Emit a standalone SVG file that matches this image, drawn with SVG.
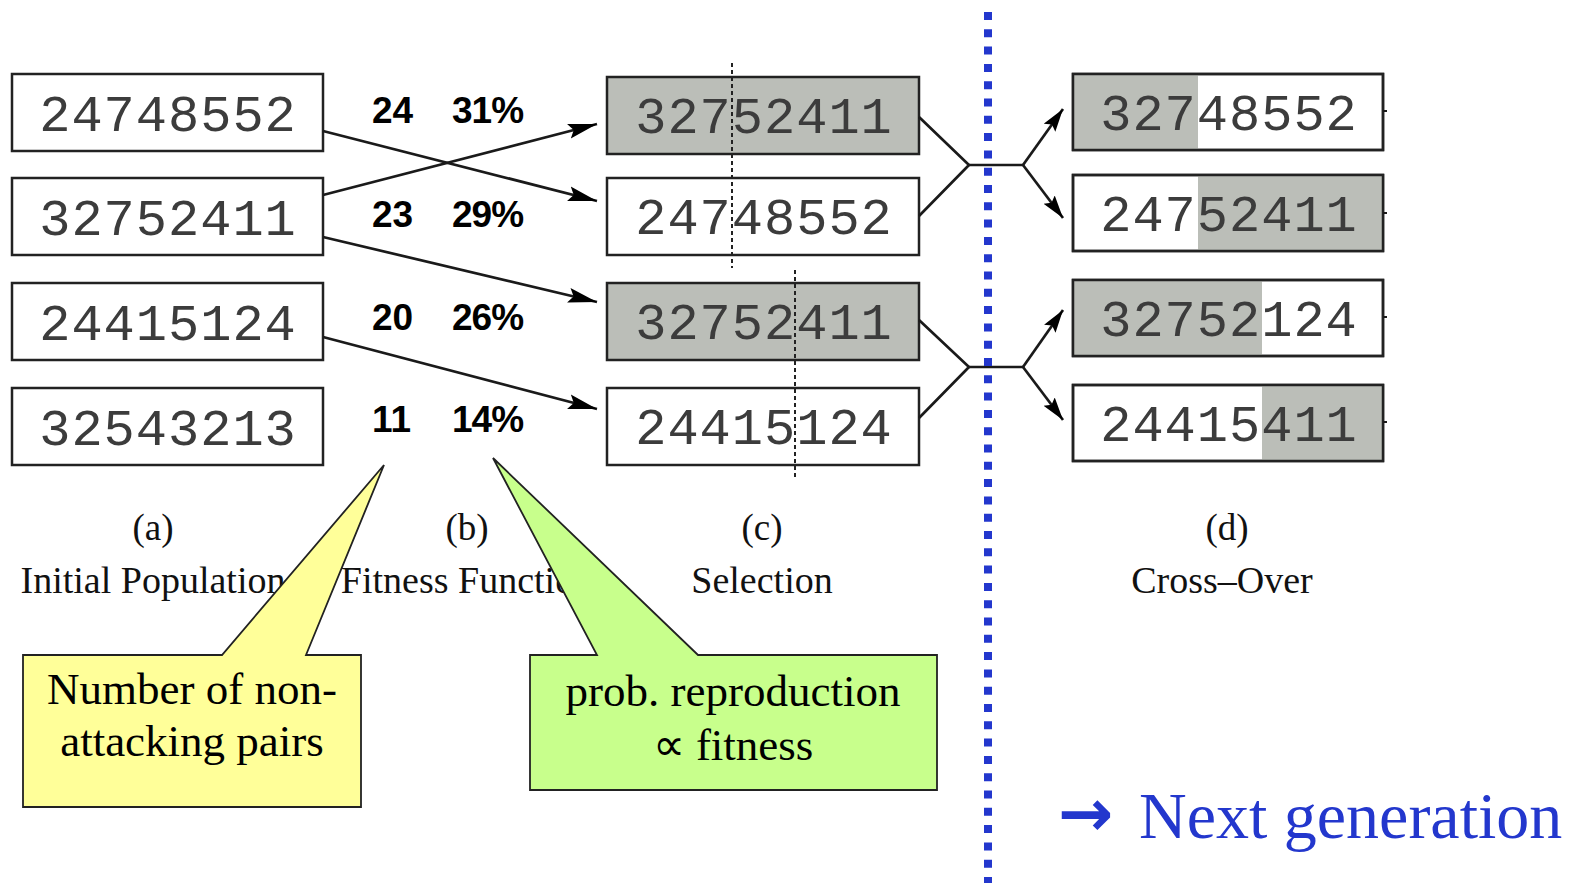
<svg xmlns="http://www.w3.org/2000/svg" width="1578" height="883" viewBox="0 0 1578 883">
<style>
.box{fill:#fff;stroke:#222;stroke-width:2.5}
.shade{fill:#bbbeb8;stroke:none}
.frame{fill:none;stroke:#222;stroke-width:2.5}
.code{font-family:"Liberation Mono","Courier New",monospace;font-size:52px;fill:#3c3c3c;text-anchor:middle;letter-spacing:1px}
.fit{font-family:"Liberation Sans",Arial,sans-serif;font-weight:bold;font-size:37px;fill:#000}
.lab{font-family:"Liberation Serif","Times New Roman",serif;font-size:37px;fill:#111;text-anchor:middle}
.cap{font-family:"Liberation Serif","Times New Roman",serif;font-size:38px;fill:#111;text-anchor:middle}
.call{font-family:"Liberation Serif","Times New Roman",serif;font-size:45px;fill:#000;text-anchor:middle}
.conn{stroke:#1a1a1a;stroke-width:2.7;fill:none}
.sel{stroke:#222;stroke-width:2;stroke-dasharray:4 3;fill:none}
</style>
<defs>
<marker id="ah" markerUnits="userSpaceOnUse" markerWidth="30" markerHeight="16" refX="29" refY="8" orient="auto">
<path d="M0,0.5 L29,8 L0,15.5 L5,8 z" fill="#000"/>
</marker>
<marker id="ah2" markerUnits="userSpaceOnUse" markerWidth="24" markerHeight="15" refX="23" refY="7.5" orient="auto">
<path d="M0,0.5 L23,7.5 L0,14.5 L4,7.5 z" fill="#000"/>
</marker>
</defs>

<g id="population">
<g id="pop1"><rect class="box" x="12" y="74" width="311" height="77"/><text class="code" x="168" y="131">24748552</text></g>
<g id="pop2"><rect class="box" x="12" y="178" width="311" height="77"/><text class="code" x="168" y="235">32752411</text></g>
<g id="pop3"><rect class="box" x="12" y="283" width="311" height="77"/><text class="code" x="168" y="340">24415124</text></g>
<g id="pop4"><rect class="box" x="12" y="388" width="311" height="77"/><text class="code" x="168" y="445">32543213</text></g>
</g>

<g id="fitness">
<text class="fit" x="372" y="123">24</text><text class="fit" x="452" y="123" letter-spacing="-1">31%</text>
<text class="fit" x="372" y="227">23</text><text class="fit" x="452" y="227" letter-spacing="-1">29%</text>
<text class="fit" x="372" y="330">20</text><text class="fit" x="452" y="330" letter-spacing="-1">26%</text>
<text class="fit" x="372" y="432">11</text><text class="fit" x="452" y="432" letter-spacing="-1">14%</text>
</g>

<g id="selection">
<g id="sel1"><rect class="box" x="607" y="77" width="312" height="77" style="fill:#bbbeb8"/><text class="code" x="764" y="133">32752411</text></g>
<g id="sel2"><rect class="box" x="607" y="178" width="312" height="77"/><text class="code" x="764" y="234">24748552</text></g>
<g id="sel3"><rect class="box" x="607" y="283" width="312" height="77" style="fill:#bbbeb8"/><text class="code" x="764" y="339">32752411</text></g>
<g id="sel4"><rect class="box" x="607" y="388" width="312" height="77"/><text class="code" x="764" y="444">24415124</text></g>
<line class="sel" x1="732" y1="63" x2="732" y2="268"/>
<line class="sel" x1="795" y1="270" x2="795" y2="478"/>
</g>

<g id="crossover">
<g id="co1"><rect class="box" x="1073" y="74" width="310" height="76"/><rect class="shade" x="1074" y="75" width="124" height="74"/><rect class="frame" x="1073" y="74" width="310" height="76"/><line class="conn" x1="1383" y1="111" x2="1387" y2="111" style="stroke-width:2"/><text class="code" x="1229" y="130">32748552</text></g>
<g id="co2"><rect class="box" x="1073" y="175" width="310" height="76"/><rect class="shade" x="1198" y="176" width="184" height="74"/><rect class="frame" x="1073" y="175" width="310" height="76"/><line class="conn" x1="1383" y1="213" x2="1387" y2="213" style="stroke-width:2"/><text class="code" x="1229" y="231">24752411</text></g>
<g id="co3"><rect class="box" x="1073" y="280" width="310" height="76"/><rect class="shade" x="1074" y="281" width="188" height="74"/><rect class="frame" x="1073" y="280" width="310" height="76"/><line class="conn" x1="1383" y1="317" x2="1387" y2="317" style="stroke-width:2"/><text class="code" x="1229" y="336">32752124</text></g>
<g id="co4"><rect class="box" x="1073" y="385" width="310" height="76"/><rect class="shade" x="1262" y="386" width="120" height="74"/><rect class="frame" x="1073" y="385" width="310" height="76"/><line class="conn" x1="1383" y1="422" x2="1387" y2="422" style="stroke-width:2"/><text class="code" x="1229" y="441">24415411</text></g>
</g>

<g id="connectors">
<line class="conn" x1="323" y1="131" x2="597" y2="201" marker-end="url(#ah)"/>
<line class="conn" x1="323" y1="195" x2="597" y2="124" marker-end="url(#ah)"/>
<line class="conn" x1="323" y1="237" x2="597" y2="302" marker-end="url(#ah)"/>
<line class="conn" x1="323" y1="337" x2="597" y2="409" marker-end="url(#ah)"/>
<polyline class="conn" points="919,117 969,165 919,216"/>
<line class="conn" x1="969" y1="165" x2="1023" y2="165"/>
<line class="conn" x1="1023" y1="165" x2="1063" y2="109" marker-end="url(#ah2)"/>
<line class="conn" x1="1023" y1="165" x2="1063" y2="218" marker-end="url(#ah2)"/>
<polyline class="conn" points="919,320 969,367 919,418"/>
<line class="conn" x1="969" y1="367" x2="1023" y2="367"/>
<line class="conn" x1="1023" y1="367" x2="1063" y2="310" marker-end="url(#ah2)"/>
<line class="conn" x1="1023" y1="367" x2="1063" y2="420" marker-end="url(#ah2)"/>
</g>

<line id="divider" x1="988" y1="12" x2="988" y2="883" stroke="#2337cd" stroke-width="8" stroke-dasharray="8 9.3"/>

<g id="labels">
<text class="lab" x="153" y="540">(a)</text>
<text class="lab" x="467" y="540">(b)</text>
<text class="lab" x="762" y="540">(c)</text>
<text class="lab" x="1227" y="540">(d)</text>
<text class="cap" x="153" y="593">Initial Population</text>
<text class="cap" x="467" y="593">Fitness Function</text>
<text class="cap" x="762" y="593">Selection</text>
<text class="cap" x="1222" y="593">Cross–Over</text>
</g>

<g id="callout-pairs">
<path d="M23,655 L222,655 L384,465 L306,655 L361,655 L361,807 L23,807 Z" fill="#ffff99" stroke="#222" stroke-width="1.8"/>
<text class="call" x="192" y="704">Number of non-</text>
<text class="call" x="192" y="756">attacking pairs</text>
</g>

<g id="callout-prob">
<path d="M530,655 L597,655 L493,458 L698,655 L937,655 L937,790 L530,790 Z" fill="#c8ff8c" stroke="#222" stroke-width="1.8"/>
<text class="call" x="733" y="706">prob. reproduction</text>
<text class="call" x="733" y="760">∝ fitness</text>
</g>

<g id="next-generation">
<text x="1058" y="836" font-family="DejaVu Sans, sans-serif" font-weight="bold" font-size="66" fill="#2337cd">→</text>
<text x="1139" y="838" font-family="Liberation Serif, Times New Roman, serif" font-size="66" fill="#2337cd">Next generation</text>
</g>
</svg>
